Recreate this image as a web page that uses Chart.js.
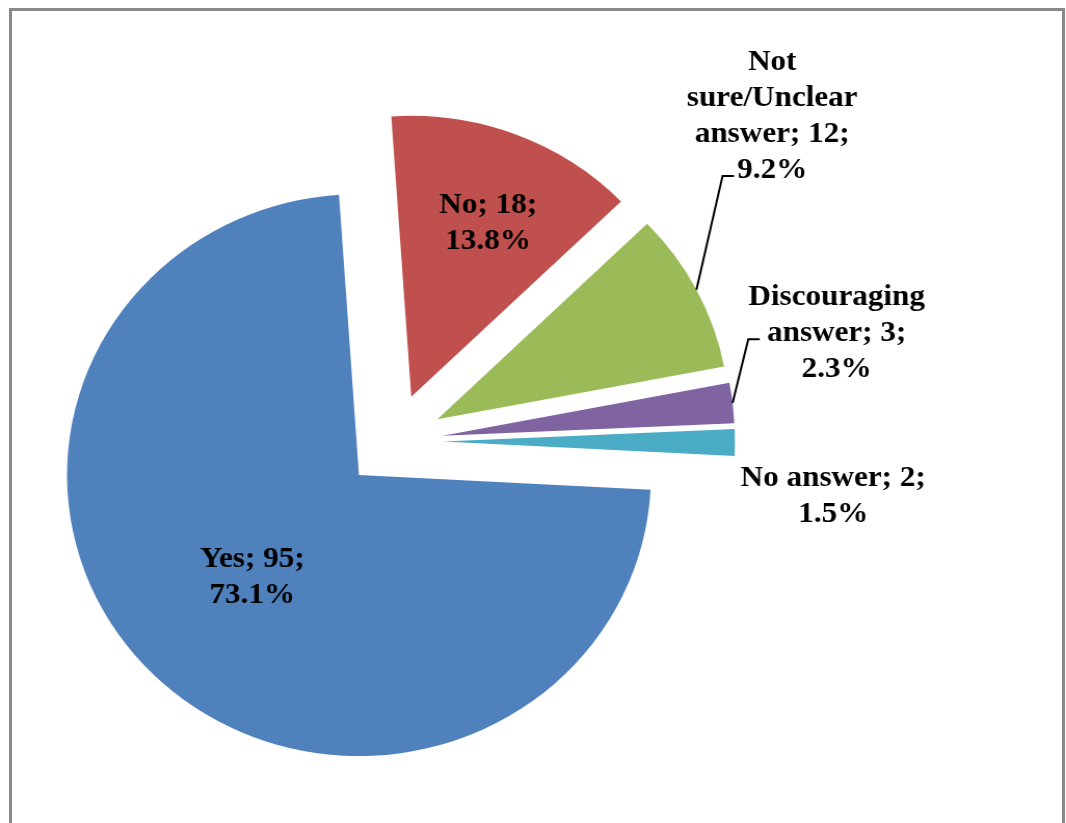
<!DOCTYPE html>
<html>
<head>
<meta charset="utf-8">
<title>Pie</title>
<script src="https://cdn.jsdelivr.net/npm/chart.js@4.4.1/dist/chart.umd.min.js"></script>
<style>
  html, body { margin: 0; padding: 0; background: #fff; overflow: hidden; }
  #frame { position: absolute; left: 9px; top: 8px; width: 1056px; height: 900px; border: 3px solid #898989; box-sizing: border-box; }
  #wrap { position: absolute; left: 0; top: 0; width: 1026px; height: 823px; transform: scaleX(1.039); transform-origin: 0 0; }
</style>
</head>
<body>
<div id="frame"></div>
<div id="wrap"><canvas id="pie" width="1026" height="823"></canvas></div>
<script>
const categories = ['Yes', 'No', 'Not sure/Unclear answer', 'Discouraging answer', 'No answer'];
const counts = [95, 18, 12, 3, 2];
const sliceColors = ['#4F81BD', '#C0504D', '#9BBB59', '#8064A2', '#4BACC6'];

// label placement: distance (in radii) from the slice tip, angle shift from mid-angle (deg), wrap width
const labelPlace = [[0.51, 1.2, 115], [0.68, 1.8, 115], [1.58, -16, 185], [1.40, -8.7, 185], [1.35, 7.8, 200]];
// leader lines: which text line they hook onto and the gap before it
const leaders = [null, null, {line: 3, gap: 3}, {line: 1, gap: 7}, null];

const explode = 47.5;
const lineHeight = 36;
const total = counts.reduce((a, b) => a + b, 0);

function wrapText(ctx, text, maxWidth) {
    const words = text.split(' ');
    const lines = [];
    let cur = '';
    words.forEach(w => {
        const test = cur ? cur + ' ' + w : w;
        if (cur && ctx.measureText(test).width > maxWidth) {
            lines.push(cur);
            cur = w;
        } else {
            cur = test;
        }
    });
    if (cur) lines.push(cur);
    return lines;
}

const explodePlugin = {
    id: 'explode',
    beforeDatasetsDraw(chart) {
        chart.getDatasetMeta(0).data.forEach(arc => {
            const mid = (arc.startAngle + arc.endAngle) / 2;
            arc._home = [arc.x, arc.y];
            arc.x += Math.cos(mid) * explode;
            arc.y += Math.sin(mid) * explode;
        });
    },
    afterDatasetsDraw(chart) {
        const ctx = chart.ctx;
        const arcs = chart.getDatasetMeta(0).data;
        ctx.save();
        ctx.font = 'bold 30px "Liberation Serif", "Times New Roman", serif';
        ctx.fillStyle = '#000';
        ctx.strokeStyle = '#000';
        ctx.lineWidth = 2;
        ctx.textAlign = 'center';
        ctx.textBaseline = 'alphabetic';
        arcs.forEach((arc, i) => {
            const mid = (arc.startAngle + arc.endAngle) / 2;
            const [rf, shift, wrapW] = labelPlace[i];
            const a = mid + shift * Math.PI / 180;
            const cx = arc.x + Math.cos(a) * rf * arc.outerRadius;
            const cy = arc.y + Math.sin(a) * rf * arc.outerRadius;
            const pct = (counts[i] / total * 100).toFixed(1);
            const lines = wrapText(ctx, categories[i] + '; ' + counts[i] + '; ' + pct + '%', wrapW);
            const baselines = lines.map((l, k) => cy + (k - (lines.length - 1) / 2) * lineHeight + 10);
            lines.forEach((l, k) => ctx.fillText(l, cx, baselines[k]));

            const ld = leaders[i];
            if (ld) {
                const txtLeft = cx - ctx.measureText(lines[ld.line]).width / 2;
                const ty = baselines[ld.line] - 2;
                const tickRight = txtLeft - ld.gap;
                const tickLeft = tickRight - 11;
                const px = arc.x + Math.cos(mid) * arc.outerRadius;
                const py = arc.y + Math.sin(mid) * arc.outerRadius;
                ctx.beginPath();
                ctx.moveTo(px, py);
                ctx.lineTo(tickLeft, ty);
                ctx.lineTo(tickRight, ty);
                ctx.stroke();
            }
        });
        ctx.restore();
        arcs.forEach(arc => {
            if (arc._home) {
                arc.x = arc._home[0];
                arc.y = arc._home[1];
            }
        });
    }
};

new Chart(document.getElementById('pie'), {
    type: 'pie',
    data: {
        labels: categories,
        datasets: [{
            data: counts,
            backgroundColor: sliceColors,
            borderWidth: 0
        }]
    },
    options: {
        responsive: false,
        animation: false,
        events: [],
        rotation: 93,
        radius: 281,
        layout: { padding: { left: 0, right: 268.4, top: 59.4, bottom: 0 } },
        plugins: {
            legend: { display: false },
            tooltip: { enabled: false }
        }
    },
    plugins: [explodePlugin]
});
</script>
</body>
</html>
